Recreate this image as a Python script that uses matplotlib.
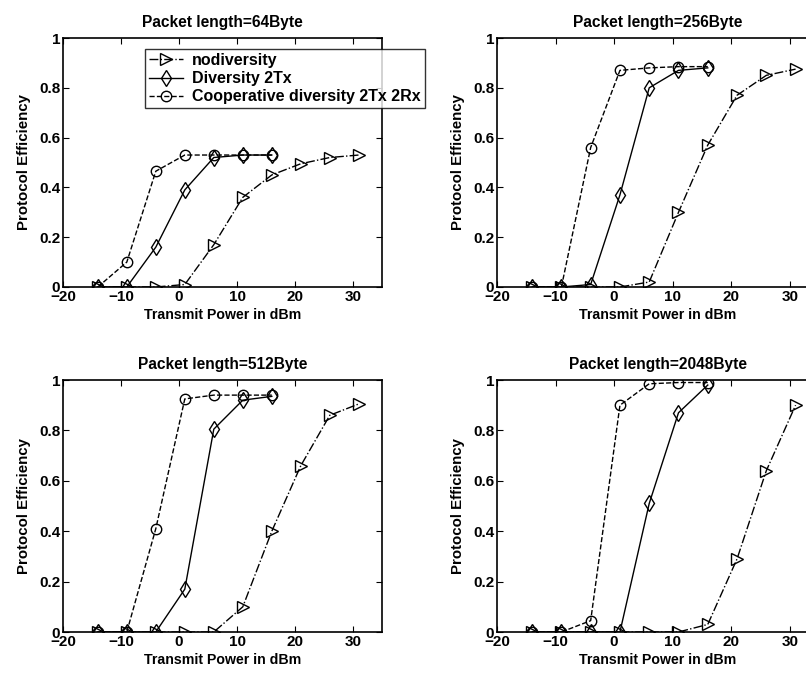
import matplotlib
matplotlib.use('Agg')
import matplotlib.pyplot as plt

plt.rcParams['font.family'] = ['Liberation Sans', 'DejaVu Sans']

# transmit power values
x_nodiv = [-14, -9, -4, 1, 6, 11, 16, 21, 26, 31]
x_div = [-14, -9, -4, 1, 6, 11, 16]

titles = ['Packet length=64Byte', 'Packet length=256Byte',
          'Packet length=512Byte', 'Packet length=2048Byte']

nodiv_64 = [0, 0, 0, 0.01, 0.17, 0.36, 0.45, 0.495, 0.52, 0.53]
div_64 = [0, 0, 0.16, 0.39, 0.52, 0.53, 0.53]
coop_64 = [0, 0.10, 0.465, 0.53, 0.53, 0.53, 0.53]

nodiv_256 = [0, 0, 0, 0, 0.02, 0.30, 0.57, 0.77, 0.85, 0.875]
div_256 = [0, 0, 0.01, 0.37, 0.80, 0.87, 0.88]
coop_256 = [0, 0, 0.56, 0.87, 0.88, 0.885, 0.885]

nodiv_512 = [0, 0, 0, 0, 0, 0.10, 0.40, 0.66, 0.86, 0.905]
div_512 = [0, 0, 0, 0.17, 0.805, 0.92, 0.935]
coop_512 = [0, 0, 0.41, 0.925, 0.94, 0.94, 0.94]

nodiv_2048 = [0, 0, 0, 0, 0, 0, 0.03, 0.29, 0.64, 0.90]
div_2048 = [0, 0, 0, 0, 0.51, 0.87, 0.98]
coop_2048 = [0, 0, 0.045, 0.90, 0.985, 0.99, 0.99]

nodiv_all = [nodiv_64, nodiv_256, nodiv_512, nodiv_2048]
div_all = [div_64, div_256, div_512, div_2048]
coop_all = [coop_64, coop_256, coop_512, coop_2048]

W, H = 806, 675
fig = plt.figure(figsize=(W / 100, H / 100), dpi=100, facecolor='white')

# axes boxes in pixels: left, top, right, bottom
boxes = [(63, 38, 382, 287), (497, 38, 819, 287),
         (63, 380, 382, 632), (497, 380, 819, 632)]

for i, (l, t, r, b) in enumerate(boxes):
    ax = fig.add_axes([l / W, 1 - b / H, (r - l) / W, (b - t) / H])
    ax.plot(x_nodiv, nodiv_all[i], color='black', linestyle='-.', marker='>',
            markerfacecolor='none', markersize=8.5, lw=1, label='nodiversity')
    ax.plot(x_div, div_all[i], color='black', linestyle='-', marker='d',
            markerfacecolor='none', markersize=8, lw=1, label='Diversity 2Tx')
    ax.plot(x_div, coop_all[i], color='black', linestyle='--', marker='o',
            markerfacecolor='none', markersize=7.5, lw=1,
            label='Cooperative diversity 2Tx 2Rx')
    ax.set_xlim(-20, 35)
    ax.set_ylim(0, 1)
    ax.set_xticks([-20, -10, 0, 10, 20, 30])
    ax.set_yticks([0, 0.2, 0.4, 0.6, 0.8, 1])
    ax.set_yticklabels(['0', '0.2', '0.4', '0.6', '0.8', '1'])
    ax.tick_params(direction='in', top=True, right=True, labelsize=11,
                   length=4, pad=2)
    for s in ax.spines.values():
        s.set_linewidth(1.2)
    ax.set_title(titles[i], fontsize=11.2, fontweight='bold', pad=8)
    ax.set_xlabel('Transmit Power in dBm', fontsize=10.2, fontweight='bold',
                  labelpad=3)
    ax.set_ylabel('Protocol Efficiency', fontsize=10.8, fontweight='bold',
                  labelpad=6)
    for lab in ax.get_xticklabels() + ax.get_yticklabels():
        lab.set_fontweight('bold')
    if i == 0:
        leg = ax.legend(loc='upper left', bbox_to_anchor=(0.257, 0.956),
                        fontsize=11.5, frameon=True, fancybox=False,
                        edgecolor='black', borderpad=0.25, handlelength=2.1,
                        handletextpad=0.6, labelspacing=0.2,
                        borderaxespad=0)
        leg.get_frame().set_linewidth(1)
        leg.set_zorder(10)
        for t in leg.get_texts():
            t.set_fontweight('bold')

fig.savefig('out.png', dpi=100, facecolor='white')
